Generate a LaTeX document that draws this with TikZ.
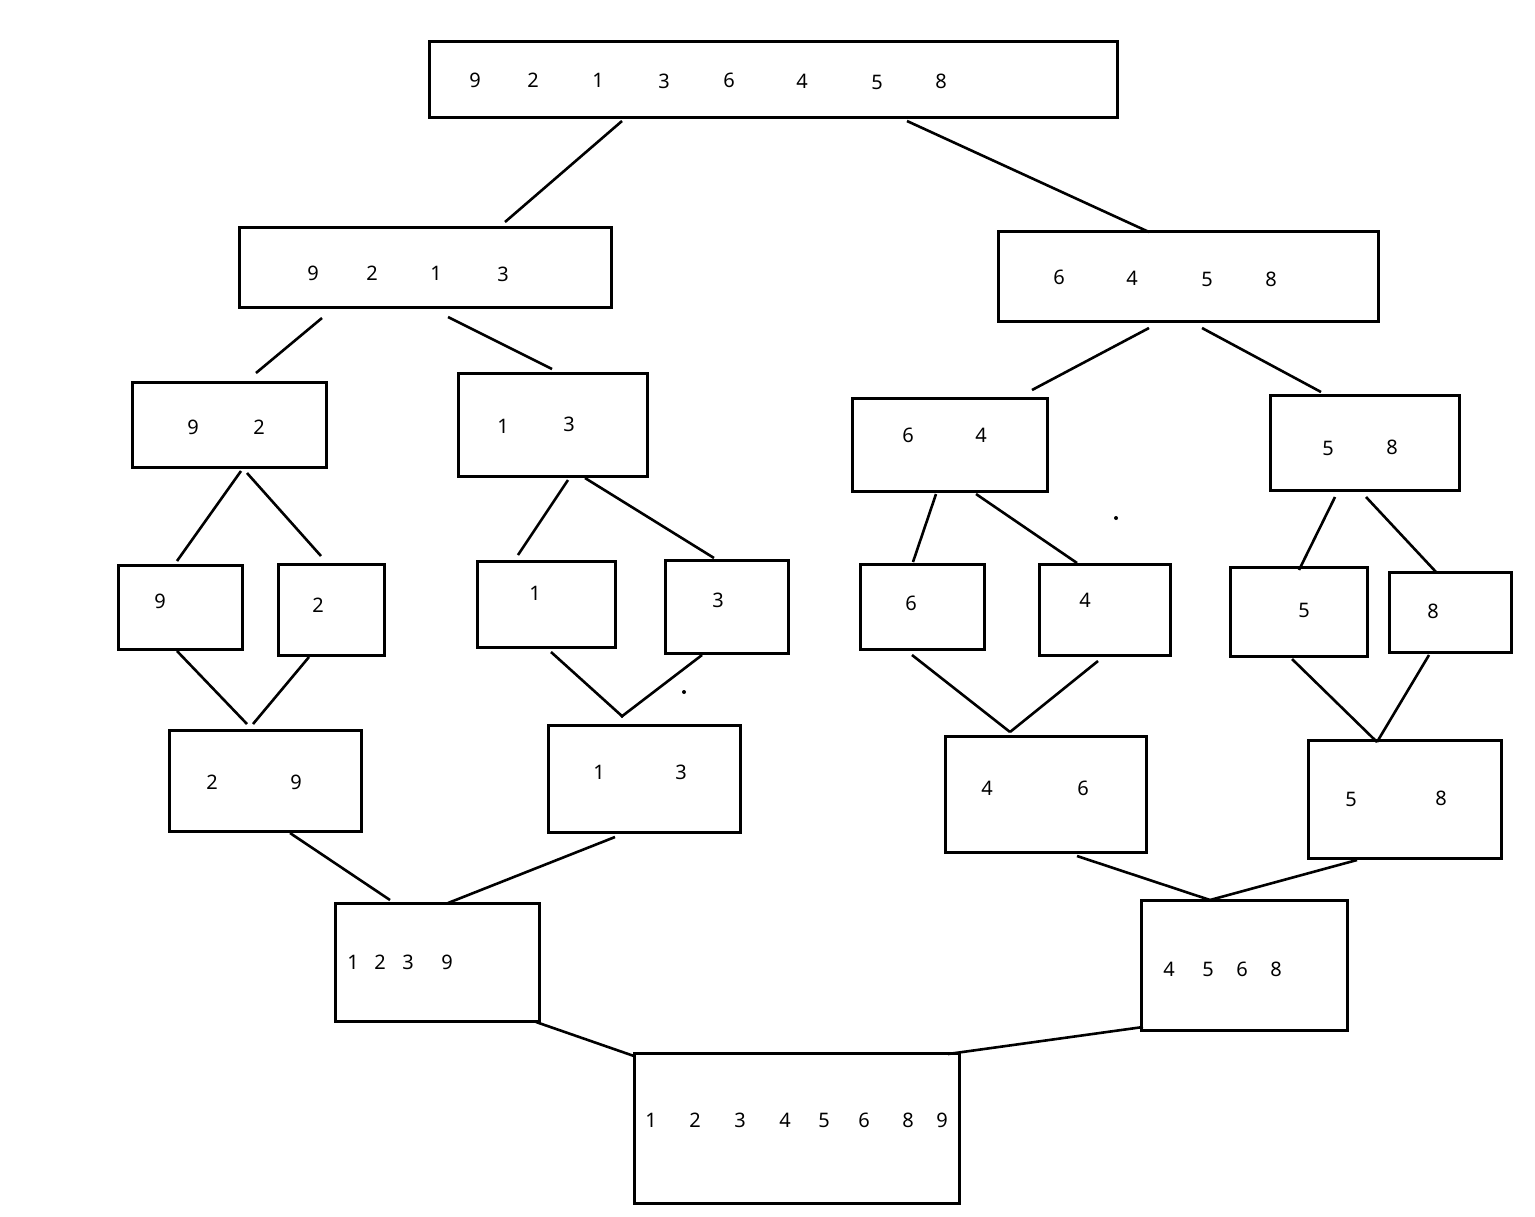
\documentclass[tikz,border=0pt]{standalone}
\usepackage{fontspec}
\setmainfont{Noto Sans}
\usetikzlibrary{fit}
\begin{document}
\begin{tikzpicture}[x=0.5pt,y=-0.5pt,
  box/.style={draw=black,line width=1.5pt,inner sep=0pt,fill=none},
  num/.style={font=\fontsize{10}{12}\selectfont,inner sep=0pt,text=black},
  conn/.style={draw=black,line width=1.3pt},
  dotmark/.style={fill=black,circle,inner sep=0pt,minimum size=2pt}]
\useasboundingbox (0,0) rectangle (1535,1216);
% boxes
\node[box,fit={(429,41)(1117,117)}] (b1) {};
\node[box,fit={(239,227)(611,307)}] (b2) {};
\node[box,fit={(998,231)(1378,321)}] (b3) {};
\node[box,fit={(132,382)(326,467)}] (b4) {};
\node[box,fit={(458,373)(647,476)}] (b5) {};
\node[box,fit={(852,398)(1047,491)}] (b6) {};
\node[box,fit={(1270,395)(1459,490)}] (b7) {};
\node[box,fit={(118,565)(242,649)}] (b8) {};
\node[box,fit={(278,564)(384,655)}] (b9) {};
\node[box,fit={(477,561)(615,647)}] (b10) {};
\node[box,fit={(665,560)(788,653)}] (b11) {};
\node[box,fit={(860,564)(984,649)}] (b12) {};
\node[box,fit={(1039,564)(1170,655)}] (b13) {};
\node[box,fit={(1230,567)(1367,656)}] (b14) {};
\node[box,fit={(1389,572)(1511,652)}] (b15) {};
\node[box,fit={(169,730)(361,831)}] (b16) {};
\node[box,fit={(548,725)(740,832)}] (b17) {};
\node[box,fit={(945,736)(1146,852)}] (b18) {};
\node[box,fit={(1308,740)(1501,858)}] (b19) {};
\node[box,fit={(335,903)(539,1021)}] (b20) {};
\node[box,fit={(1141,900)(1347,1030)}] (b21) {};
\node[box,fit={(634,1053)(959,1203)}] (b22) {};
% texts
\node[num] (t1a) at (475,80) {9};
\node[num] (t1b) at (533,80) {2};
\node[num] (t1c) at (598,80) {1};
\node[num] (t1d) at (664,81) {3};
\node[num] (t1e) at (729,80) {6};
\node[num] (t1f) at (802,81) {4};
\node[num] (t1g) at (877,82) {5};
\node[num] (t1h) at (941,81) {8};
\node[num] (t2a) at (313,273) {9};
\node[num] (t2b) at (372,273) {2};
\node[num] (t2c) at (436,273) {1};
\node[num] (t2d) at (503,274) {3};
\node[num] (t3a) at (1059,277) {6};
\node[num] (t3b) at (1132,278) {4};
\node[num] (t3c) at (1207,279) {5};
\node[num] (t3d) at (1271,279) {8};
\node[num] (t4a) at (193,427) {9};
\node[num] (t4b) at (259,427) {2};
\node[num] (t5a) at (503,426) {1};
\node[num] (t5b) at (569,424) {3};
\node[num] (t6a) at (908,435) {6};
\node[num] (t6b) at (981,435) {4};
\node[num] (t7a) at (1328,448) {5};
\node[num] (t7b) at (1392,447) {8};
\node[num] (t8) at (160,601) {9};
\node[num] (t9) at (318,605) {2};
\node[num] (t10) at (535,593) {1};
\node[num] (t11) at (718,600) {3};
\node[num] (t12) at (911,603) {6};
\node[num] (t13) at (1085,600) {4};
\node[num] (t14) at (1304,610) {5};
\node[num] (t15) at (1433,611) {8};
\node[num] (t16a) at (212,782) {2};
\node[num] (t16b) at (296,782) {9};
\node[num] (t17a) at (599,772) {1};
\node[num] (t17b) at (681,772) {3};
\node[num] (t18a) at (987,788) {4};
\node[num] (t18b) at (1083,788) {6};
\node[num] (t19a) at (1351,799) {5};
\node[num] (t19b) at (1441,798) {8};
\node[num] (t20a) at (353,962) {1};
\node[num] (t20b) at (380,962) {2};
\node[num] (t20c) at (408,962) {3};
\node[num] (t20d) at (447,962) {9};
\node[num] (t21a) at (1169,969) {4};
\node[num] (t21b) at (1208,969) {5};
\node[num] (t21c) at (1242,969) {6};
\node[num] (t21d) at (1276,969) {8};
\node[num] (t22a) at (651,1120) {1};
\node[num] (t22b) at (695,1120) {2};
\node[num] (t22c) at (740,1120) {3};
\node[num] (t22d) at (785,1120) {4};
\node[num] (t22e) at (824,1120) {5};
\node[num] (t22f) at (864,1120) {6};
\node[num] (t22g) at (908,1120) {8};
\node[num] (t22h) at (942,1120) {9};
% connector end points
\coordinate (a1) at (622,121); \coordinate (a2) at (505,222);
\coordinate (a3) at (907,121); \coordinate (a4) at (1149,232);
\coordinate (a5) at (322,318); \coordinate (a6) at (256,373);
\coordinate (a7) at (448,317); \coordinate (a8) at (552,369);
\coordinate (a9) at (1149,328); \coordinate (a10) at (1032,390);
\coordinate (a11) at (1202,328); \coordinate (a12) at (1321,392);
\coordinate (a13) at (241,471); \coordinate (a14) at (177,561);
\coordinate (a15) at (247,473); \coordinate (a16) at (321,556);
\coordinate (a17) at (568,480); \coordinate (a18) at (518,555);
\coordinate (a19) at (585,478); \coordinate (a20) at (714,558);
\coordinate (a21) at (936,494); \coordinate (a22) at (913,562);
\coordinate (a23) at (976,494); \coordinate (a24) at (1077,563);
\coordinate (a25) at (1335,497); \coordinate (a26) at (1299,570);
\coordinate (a27) at (1366,497); \coordinate (a28) at (1436,572);
\coordinate (a29) at (177,651); \coordinate (a30) at (247,724);
\coordinate (a31) at (309,657); \coordinate (a32) at (253,724);
\coordinate (a33) at (551,652); \coordinate (a34) at (623,717);
\coordinate (a35) at (702,655); \coordinate (a36) at (621,717);
\coordinate (a37) at (912,655); \coordinate (a38) at (1010,732);
\coordinate (a39) at (1098,661); \coordinate (a40) at (1010,732);
\coordinate (a41) at (1292,659); \coordinate (a42) at (1377,742);
\coordinate (a43) at (1429,655); \coordinate (a44) at (1377,742);
\coordinate (a45) at (290,833); \coordinate (a46) at (390,900);
\coordinate (a47) at (615,837); \coordinate (a48) at (448,903);
\coordinate (a49) at (1077,856); \coordinate (a50) at (1210,900);
\coordinate (a51) at (1357,860); \coordinate (a52) at (1210,900);
\coordinate (a53) at (536,1022); \coordinate (a54) at (634,1056);
\coordinate (a55) at (1143,1027); \coordinate (a56) at (948,1054);
\foreach \i/\j in {a1/a2,a3/a4,a5/a6,a7/a8,a9/a10,a11/a12,a13/a14,a15/a16,
  a17/a18,a19/a20,a21/a22,a23/a24,a25/a26,a27/a28,a29/a30,a31/a32,a33/a34,
  a35/a36,a37/a38,a39/a40,a41/a42,a43/a44,a45/a46,a47/a48,a49/a50,a51/a52,
  a53/a54,a55/a56}
  \draw[conn] (\i) -- (\j);
% stray dots
\node[dotmark] (d1) at (1116,518) {};
\node[dotmark] (d2) at (684,692) {};
\end{tikzpicture}
\end{document}
